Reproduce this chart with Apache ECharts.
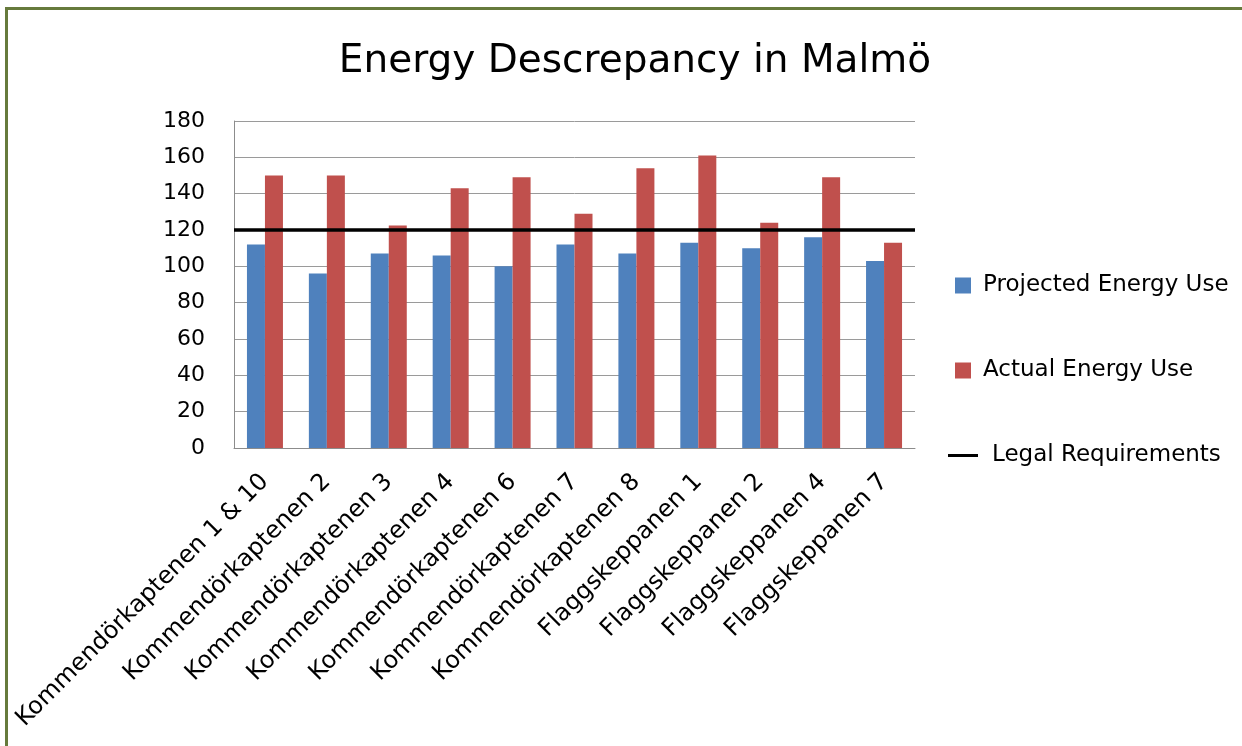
<!DOCTYPE html>
<html>
<head>
<meta charset="utf-8">
<title>Energy Descrepancy in Malmö</title>
<script src="https://cdn.jsdelivr.net/npm/echarts@6/dist/echarts.min.js"></script>
<style>
  html, body { margin: 0; padding: 0; background: #fff; }
  #chart { position: absolute; left: 0; top: 0; width: 1242px; height: 746px; }
  #frame {
    position: absolute; left: 5px; top: 7px; width: 1300px; height: 800px;
    border-top: 3px solid #667a3c; border-left: 3px solid #667a3c;
    pointer-events: none;
  }
</style>
</head>
<body>
<div id="chart"></div>
<div id="frame"></div>
<script>
// data
const buildings = [
  'Kommendörkaptenen 1 & 10', 'Kommendörkaptenen 2', 'Kommendörkaptenen 3',
  'Kommendörkaptenen 4', 'Kommendörkaptenen 6', 'Kommendörkaptenen 7',
  'Kommendörkaptenen 8', 'Flaggskeppanen 1', 'Flaggskeppanen 2',
  'Flaggskeppanen 4', 'Flaggskeppanen 7'
]
const projected = [112, 96, 107, 106, 100, 112, 107, 113, 110, 116, 103]
const actual = [150, 150, 122.5, 143, 149, 129, 154, 161, 124, 149, 113]
const legalLimit = [120, 120, 120, 120, 120, 120, 120, 120, 120, 120, 120]
const yTicks = { min: 0, max: 180, step: 20 }

const FONT = '"DejaVu Sans", sans-serif'
const chart = echarts.init(document.getElementById('chart'))

const option = {
  animation: false,
  title: {
    text: 'Energy Descrepancy in Malmö',
    left: 630,
    textAlign: 'center',
    top: 37,
    textStyle: { fontFamily: FONT, fontSize: 39, fontWeight: 'normal', color: '#000' }
  },
  grid: { left: 234, right: 327, top: 121, bottom: 298 },
  legend: {
    orient: 'vertical',
    left: 943,
    top: 269,
    itemWidth: 30,
    itemHeight: 16,
    itemGap: 62,
    textStyle: { fontFamily: FONT, fontSize: 23, color: '#000' },
    data: [
      { name: 'Projected Energy Use', icon: 'path://M0,0H10V10H0Z' },
      { name: 'Actual Energy Use', icon: 'path://M0,0H10V10H0Z' },
      { name: 'Legal Requirements', icon: 'path://M0,0H30V3H0Z', textStyle: { padding: [0, 0, 0, 9] } }
    ]
  },
  xAxis: [
    {
      type: 'category',
      data: buildings,
      axisLine: { lineStyle: { color: '#8c8c8c', width: 1 } },
      axisTick: { show: false },
      axisLabel: {
        rotate: 45,
        interval: 0,
        margin: 30,
        fontFamily: FONT,
        fontSize: 24,
        color: '#000'
      }
    },
    {
      // hidden axis so the limit line runs across the whole plot
      type: 'category',
      data: buildings,
      boundaryGap: false,
      show: false
    }
  ],
  yAxis: {
    type: 'value',
    min: yTicks.min,
    max: yTicks.max,
    interval: yTicks.step,
    axisLine: { show: true, lineStyle: { color: '#8c8c8c', width: 1 } },
    axisTick: { show: false },
    splitLine: { lineStyle: { color: '#9a9a9a', width: 1 } },
    axisLabel: { margin: 29, fontFamily: FONT, fontSize: 22, color: '#000' }
  },
  series: [
    {
      name: 'Projected Energy Use',
      type: 'bar',
      data: projected,
      barWidth: 18,
      barGap: '0%',
      itemStyle: { color: '#4f81bd' }
    },
    {
      name: 'Actual Energy Use',
      type: 'bar',
      data: actual,
      barWidth: 18,
      barGap: '0%',
      itemStyle: { color: '#c0504d' }
    },
    {
      name: 'Legal Requirements',
      type: 'line',
      xAxisIndex: 1,
      data: legalLimit,
      symbol: 'none',
      itemStyle: { color: '#000' },
      lineStyle: { color: '#000', width: 3.5 },
      z: 5
    }
  ]
}

chart.setOption(option)
</script>
</body>
</html>
